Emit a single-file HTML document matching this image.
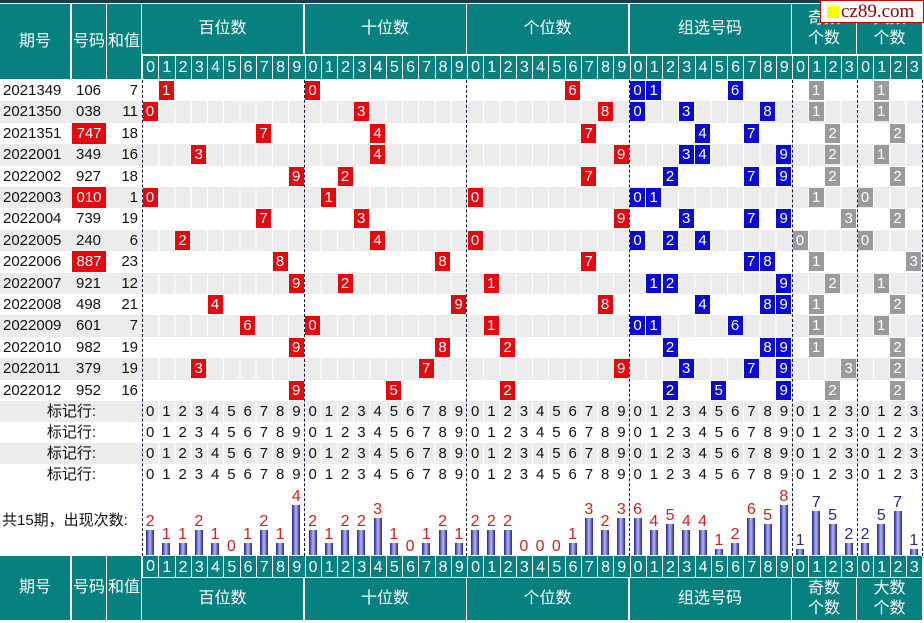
<!DOCTYPE html>
<html><head><meta charset="utf-8"><style>
*{margin:0;padding:0;box-sizing:border-box}
body{width:924px;height:623px;background:#fff;position:relative;overflow:hidden;font-family:"Liberation Sans","Noto Sans CJK SC",sans-serif;font-size:15px;color:#111}
.a{position:absolute}
.h{position:absolute;background:#078080;color:#fff;display:flex;align-items:center;justify-content:center;text-align:center;line-height:20px;font-size:16px}
.dr{position:absolute;left:142px;width:780px;height:23px;display:flex}
.dr span{flex:0 0 16.25px;background:#078080;color:#fff;text-align:center;line-height:23px;border-left:1px solid #fff;font-size:16px}
.row{position:absolute;left:0;width:922px;height:21.4px}
.g{background:#ececec}
.g::before{content:"";position:absolute;left:142px;width:780px;top:0;bottom:0;background:repeating-linear-gradient(90deg,#fff 0 1px,transparent 1px 16.25px)}
.row .t{position:absolute;top:0;line-height:21px}
.b{position:absolute;top:1px;width:15px;height:19px;line-height:19px;color:#fff;text-align:center;font-size:15px}
.r{background:#e4080f}.u{background:#0a0ad0}.y{background:#9a9a9a}
.mk{position:absolute;left:0;width:922px;height:21px}
.mk .l{position:absolute;right:826px;line-height:21px}
.mk .d{position:absolute;left:142px;width:780px;display:flex}
.mk .d span{flex:0 0 16.25px;text-align:center;line-height:21px}
.dl{position:absolute;top:80px;height:476px;width:0;border-left:1px dashed #113}
.ch{position:absolute;left:142px;top:486px;width:780px;height:69px;display:flex}
.ch div{flex:0 0 16.25px;display:flex;flex-direction:column;justify-content:flex-end;align-items:center}
.ch em{font-style:normal;font-size:16px;line-height:17px;color:#d42020}
.ch i{display:block;width:8px;background:linear-gradient(90deg,#22229a,#b8b8f0 50%,#22229a)}
</style></head><body>
<div class="a" style="left:0;top:0;width:924px;height:3px;background:#1d3a48"></div>
<div class="h" style="left:0;top:4px;width:70px;height:75px">期号</div>
<div class="h" style="left:72px;top:4px;width:34px;height:75px">号码</div>
<div class="h" style="left:107px;top:4px;width:34px;height:75px">和值</div>
<div class="h" style="left:142px;top:4px;width:161px;height:50px">百位数</div>
<div class="h" style="left:304.5px;top:4px;width:161px;height:50px">十位数</div>
<div class="h" style="left:467px;top:4px;width:161px;height:50px">个位数</div>
<div class="h" style="left:629.5px;top:4px;width:161px;height:50px">组选号码</div>
<div class="h" style="left:792px;top:4px;width:64px;height:50px">奇数<br>个数</div>
<div class="h" style="left:857px;top:4px;width:65px;height:50px">大数<br>个数</div>
<div class="dr" style="top:56px"><span>0</span><span>1</span><span>2</span><span>3</span><span>4</span><span>5</span><span>6</span><span>7</span><span>8</span><span>9</span><span>0</span><span>1</span><span>2</span><span>3</span><span>4</span><span>5</span><span>6</span><span>7</span><span>8</span><span>9</span><span>0</span><span>1</span><span>2</span><span>3</span><span>4</span><span>5</span><span>6</span><span>7</span><span>8</span><span>9</span><span>0</span><span>1</span><span>2</span><span>3</span><span>4</span><span>5</span><span>6</span><span>7</span><span>8</span><span>9</span><span>0</span><span>1</span><span>2</span><span>3</span><span>0</span><span>1</span><span>2</span><span>3</span></div>
<div class="a" style="left:820px;top:0;width:104px;height:23px;background:#fff;border:1px solid #c00"><span class="a" style="left:6px;top:5px;width:12px;height:12px;background:#ff0"></span><span class="a" style="left:20px;top:0;font-family:'Liberation Serif',serif;font-size:19px;color:#900;line-height:21px">cz89.com</span></div>

<div class="row" style="top:80px"><span class="t" style="left:3px">2021349</span><span class="t" style="left:76px">106</span><span class="t" style="right:784px">7</span>
<span class="b r" style="left:158.7px">1</span><span class="b r" style="left:305px">0</span><span class="b r" style="left:565px">6</span><span class="b u" style="left:630px">0</span><span class="b u" style="left:646.2px">1</span><span class="b u" style="left:727.5px">6</span><span class="b y" style="left:808.7px">1</span><span class="b y" style="left:873.7px">1</span></div>
<div class="row g" style="top:101.4px"><span class="t" style="left:3px">2021350</span><span class="t" style="left:76px">038</span><span class="t" style="right:784px">11</span>
<span class="b r" style="left:142.5px">0</span><span class="b r" style="left:353.7px">3</span><span class="b r" style="left:597.5px">8</span><span class="b u" style="left:630px">0</span><span class="b u" style="left:678.7px">3</span><span class="b u" style="left:760px">8</span><span class="b y" style="left:808.7px">1</span><span class="b y" style="left:873.7px">1</span></div>
<div class="row" style="top:122.8px"><span class="t" style="left:3px">2021351</span><span class="t b r" style="left:72px;width:34px;height:21px;top:0;line-height:21px">747</span><span class="t" style="right:784px">18</span>
<span class="b r" style="left:256.2px">7</span><span class="b r" style="left:370px">4</span><span class="b r" style="left:581.2px">7</span><span class="b u" style="left:695px">4</span><span class="b u" style="left:743.7px">7</span><span class="b y" style="left:825px">2</span><span class="b y" style="left:890px">2</span></div>
<div class="row g" style="top:144.2px"><span class="t" style="left:3px">2022001</span><span class="t" style="left:76px">349</span><span class="t" style="right:784px">16</span>
<span class="b r" style="left:191.2px">3</span><span class="b r" style="left:370px">4</span><span class="b r" style="left:613.7px">9</span><span class="b u" style="left:678.7px">3</span><span class="b u" style="left:695px">4</span><span class="b u" style="left:776.2px">9</span><span class="b y" style="left:825px">2</span><span class="b y" style="left:873.7px">1</span></div>
<div class="row" style="top:165.6px"><span class="t" style="left:3px">2022002</span><span class="t" style="left:76px">927</span><span class="t" style="right:784px">18</span>
<span class="b r" style="left:288.7px">9</span><span class="b r" style="left:337.5px">2</span><span class="b r" style="left:581.2px">7</span><span class="b u" style="left:662.5px">2</span><span class="b u" style="left:743.7px">7</span><span class="b u" style="left:776.2px">9</span><span class="b y" style="left:825px">2</span><span class="b y" style="left:890px">2</span></div>
<div class="row g" style="top:187px"><span class="t" style="left:3px">2022003</span><span class="t b r" style="left:72px;width:34px;height:21px;top:0;line-height:21px">010</span><span class="t" style="right:784px">1</span>
<span class="b r" style="left:142.5px">0</span><span class="b r" style="left:321.2px">1</span><span class="b r" style="left:467.5px">0</span><span class="b u" style="left:630px">0</span><span class="b u" style="left:646.2px">1</span><span class="b y" style="left:808.7px">1</span><span class="b y" style="left:857.5px">0</span></div>
<div class="row" style="top:208.4px"><span class="t" style="left:3px">2022004</span><span class="t" style="left:76px">739</span><span class="t" style="right:784px">19</span>
<span class="b r" style="left:256.2px">7</span><span class="b r" style="left:353.7px">3</span><span class="b r" style="left:613.7px">9</span><span class="b u" style="left:678.7px">3</span><span class="b u" style="left:743.7px">7</span><span class="b u" style="left:776.2px">9</span><span class="b y" style="left:841.2px">3</span><span class="b y" style="left:890px">2</span></div>
<div class="row g" style="top:229.8px"><span class="t" style="left:3px">2022005</span><span class="t" style="left:76px">240</span><span class="t" style="right:784px">6</span>
<span class="b r" style="left:175px">2</span><span class="b r" style="left:370px">4</span><span class="b r" style="left:467.5px">0</span><span class="b u" style="left:630px">0</span><span class="b u" style="left:662.5px">2</span><span class="b u" style="left:695px">4</span><span class="b y" style="left:792.5px">0</span><span class="b y" style="left:857.5px">0</span></div>
<div class="row" style="top:251.2px"><span class="t" style="left:3px">2022006</span><span class="t b r" style="left:72px;width:34px;height:21px;top:0;line-height:21px">887</span><span class="t" style="right:784px">23</span>
<span class="b r" style="left:272.5px">8</span><span class="b r" style="left:435px">8</span><span class="b r" style="left:581.2px">7</span><span class="b u" style="left:743.7px">7</span><span class="b u" style="left:760px">8</span><span class="b y" style="left:808.7px">1</span><span class="b y" style="left:906.2px">3</span></div>
<div class="row g" style="top:272.6px"><span class="t" style="left:3px">2022007</span><span class="t" style="left:76px">921</span><span class="t" style="right:784px">12</span>
<span class="b r" style="left:288.7px">9</span><span class="b r" style="left:337.5px">2</span><span class="b r" style="left:483.7px">1</span><span class="b u" style="left:646.2px">1</span><span class="b u" style="left:662.5px">2</span><span class="b u" style="left:776.2px">9</span><span class="b y" style="left:825px">2</span><span class="b y" style="left:873.7px">1</span></div>
<div class="row" style="top:294px"><span class="t" style="left:3px">2022008</span><span class="t" style="left:76px">498</span><span class="t" style="right:784px">21</span>
<span class="b r" style="left:207.5px">4</span><span class="b r" style="left:451.2px">9</span><span class="b r" style="left:597.5px">8</span><span class="b u" style="left:695px">4</span><span class="b u" style="left:760px">8</span><span class="b u" style="left:776.2px">9</span><span class="b y" style="left:808.7px">1</span><span class="b y" style="left:890px">2</span></div>
<div class="row g" style="top:315.4px"><span class="t" style="left:3px">2022009</span><span class="t" style="left:76px">601</span><span class="t" style="right:784px">7</span>
<span class="b r" style="left:240px">6</span><span class="b r" style="left:305px">0</span><span class="b r" style="left:483.7px">1</span><span class="b u" style="left:630px">0</span><span class="b u" style="left:646.2px">1</span><span class="b u" style="left:727.5px">6</span><span class="b y" style="left:808.7px">1</span><span class="b y" style="left:873.7px">1</span></div>
<div class="row" style="top:336.8px"><span class="t" style="left:3px">2022010</span><span class="t" style="left:76px">982</span><span class="t" style="right:784px">19</span>
<span class="b r" style="left:288.7px">9</span><span class="b r" style="left:435px">8</span><span class="b r" style="left:500px">2</span><span class="b u" style="left:662.5px">2</span><span class="b u" style="left:760px">8</span><span class="b u" style="left:776.2px">9</span><span class="b y" style="left:808.7px">1</span><span class="b y" style="left:890px">2</span></div>
<div class="row g" style="top:358.2px"><span class="t" style="left:3px">2022011</span><span class="t" style="left:76px">379</span><span class="t" style="right:784px">19</span>
<span class="b r" style="left:191.2px">3</span><span class="b r" style="left:418.7px">7</span><span class="b r" style="left:613.7px">9</span><span class="b u" style="left:678.7px">3</span><span class="b u" style="left:743.7px">7</span><span class="b u" style="left:776.2px">9</span><span class="b y" style="left:841.2px">3</span><span class="b y" style="left:890px">2</span></div>
<div class="row" style="top:379.6px"><span class="t" style="left:3px">2022012</span><span class="t" style="left:76px">952</span><span class="t" style="right:784px">16</span>
<span class="b r" style="left:288.7px">9</span><span class="b r" style="left:386.2px">5</span><span class="b r" style="left:500px">2</span><span class="b u" style="left:662.5px">2</span><span class="b u" style="left:711.2px">5</span><span class="b u" style="left:776.2px">9</span><span class="b y" style="left:825px">2</span><span class="b y" style="left:890px">2</span></div>

<div class="mk g" style="top:401px"><span class="l">标记行:</span><div class="d"><span>0</span><span>1</span><span>2</span><span>3</span><span>4</span><span>5</span><span>6</span><span>7</span><span>8</span><span>9</span><span>0</span><span>1</span><span>2</span><span>3</span><span>4</span><span>5</span><span>6</span><span>7</span><span>8</span><span>9</span><span>0</span><span>1</span><span>2</span><span>3</span><span>4</span><span>5</span><span>6</span><span>7</span><span>8</span><span>9</span><span>0</span><span>1</span><span>2</span><span>3</span><span>4</span><span>5</span><span>6</span><span>7</span><span>8</span><span>9</span><span>0</span><span>1</span><span>2</span><span>3</span><span>0</span><span>1</span><span>2</span><span>3</span></div></div>
<div class="mk" style="top:422px"><span class="l">标记行:</span><div class="d"><span>0</span><span>1</span><span>2</span><span>3</span><span>4</span><span>5</span><span>6</span><span>7</span><span>8</span><span>9</span><span>0</span><span>1</span><span>2</span><span>3</span><span>4</span><span>5</span><span>6</span><span>7</span><span>8</span><span>9</span><span>0</span><span>1</span><span>2</span><span>3</span><span>4</span><span>5</span><span>6</span><span>7</span><span>8</span><span>9</span><span>0</span><span>1</span><span>2</span><span>3</span><span>4</span><span>5</span><span>6</span><span>7</span><span>8</span><span>9</span><span>0</span><span>1</span><span>2</span><span>3</span><span>0</span><span>1</span><span>2</span><span>3</span></div></div>
<div class="mk g" style="top:443px"><span class="l">标记行:</span><div class="d"><span>0</span><span>1</span><span>2</span><span>3</span><span>4</span><span>5</span><span>6</span><span>7</span><span>8</span><span>9</span><span>0</span><span>1</span><span>2</span><span>3</span><span>4</span><span>5</span><span>6</span><span>7</span><span>8</span><span>9</span><span>0</span><span>1</span><span>2</span><span>3</span><span>4</span><span>5</span><span>6</span><span>7</span><span>8</span><span>9</span><span>0</span><span>1</span><span>2</span><span>3</span><span>4</span><span>5</span><span>6</span><span>7</span><span>8</span><span>9</span><span>0</span><span>1</span><span>2</span><span>3</span><span>0</span><span>1</span><span>2</span><span>3</span></div></div>
<div class="mk" style="top:464px"><span class="l">标记行:</span><div class="d"><span>0</span><span>1</span><span>2</span><span>3</span><span>4</span><span>5</span><span>6</span><span>7</span><span>8</span><span>9</span><span>0</span><span>1</span><span>2</span><span>3</span><span>4</span><span>5</span><span>6</span><span>7</span><span>8</span><span>9</span><span>0</span><span>1</span><span>2</span><span>3</span><span>4</span><span>5</span><span>6</span><span>7</span><span>8</span><span>9</span><span>0</span><span>1</span><span>2</span><span>3</span><span>4</span><span>5</span><span>6</span><span>7</span><span>8</span><span>9</span><span>0</span><span>1</span><span>2</span><span>3</span><span>0</span><span>1</span><span>2</span><span>3</span></div></div>

<div class="a" style="left:2px;top:511px;line-height:20px">共15期，出现次数:</div>

<div class="ch">
<div><em>2</em><i style="height:25px"></i></div><div><em>1</em><i style="height:12.5px"></i></div><div><em>1</em><i style="height:12.5px"></i></div><div><em>2</em><i style="height:25px"></i></div><div><em>1</em><i style="height:12.5px"></i></div><div><em>0</em><i style="height:0"></i></div><div><em>1</em><i style="height:12.5px"></i></div><div><em>2</em><i style="height:25px"></i></div><div><em>1</em><i style="height:12.5px"></i></div><div><em>4</em><i style="height:50px"></i></div>
<div><em>2</em><i style="height:25px"></i></div><div><em>1</em><i style="height:12.5px"></i></div><div><em>2</em><i style="height:25px"></i></div><div><em>2</em><i style="height:25px"></i></div><div><em>3</em><i style="height:37.5px"></i></div><div><em>1</em><i style="height:12.5px"></i></div><div><em>0</em><i style="height:0"></i></div><div><em>1</em><i style="height:12.5px"></i></div><div><em>2</em><i style="height:25px"></i></div><div><em>1</em><i style="height:12.5px"></i></div>
<div><em>2</em><i style="height:25px"></i></div><div><em>2</em><i style="height:25px"></i></div><div><em>2</em><i style="height:25px"></i></div><div><em>0</em><i style="height:0"></i></div><div><em>0</em><i style="height:0"></i></div><div><em>0</em><i style="height:0"></i></div><div><em>1</em><i style="height:12.5px"></i></div><div><em>3</em><i style="height:37.5px"></i></div><div><em>2</em><i style="height:25px"></i></div><div><em>3</em><i style="height:37.5px"></i></div>
<div><em>6</em><i style="height:37.5px"></i></div><div><em>4</em><i style="height:25px"></i></div><div><em>5</em><i style="height:31.25px"></i></div><div><em>4</em><i style="height:25px"></i></div><div><em>4</em><i style="height:25px"></i></div><div><em>1</em><i style="height:6.25px"></i></div><div><em>2</em><i style="height:12.5px"></i></div><div><em>6</em><i style="height:37.5px"></i></div><div><em>5</em><i style="height:31.25px"></i></div><div><em>8</em><i style="height:50px"></i></div>
<div><em style="color:#2a2a8a">1</em><i style="height:6.25px"></i></div><div><em style="color:#2a2a8a">7</em><i style="height:43.75px"></i></div><div><em style="color:#2a2a8a">5</em><i style="height:31.25px"></i></div><div><em style="color:#2a2a8a">2</em><i style="height:12.5px"></i></div>
<div><em style="color:#2a2a8a">2</em><i style="height:12.5px"></i></div><div><em style="color:#2a2a8a">5</em><i style="height:31.25px"></i></div><div><em style="color:#2a2a8a">7</em><i style="height:43.75px"></i></div><div><em style="color:#2a2a8a">1</em><i style="height:6.25px"></i></div>
</div>

<div class="dl" style="left:142px"></div><div class="dl" style="left:304px"></div><div class="dl" style="left:466px"></div><div class="dl" style="left:629px"></div><div class="dl" style="left:792px"></div><div class="dl" style="left:857px"></div><div class="dl" style="left:922px"></div>

<div class="h" style="left:0;top:556px;width:70px;height:64px">期号</div>
<div class="h" style="left:72px;top:556px;width:34px;height:64px">号码</div>
<div class="h" style="left:107px;top:556px;width:34px;height:64px">和值</div>
<div class="dr" style="top:556px;height:21px"><span style="line-height:21px">0</span><span>1</span><span>2</span><span>3</span><span>4</span><span>5</span><span>6</span><span>7</span><span>8</span><span>9</span><span>0</span><span>1</span><span>2</span><span>3</span><span>4</span><span>5</span><span>6</span><span>7</span><span>8</span><span>9</span><span>0</span><span>1</span><span>2</span><span>3</span><span>4</span><span>5</span><span>6</span><span>7</span><span>8</span><span>9</span><span>0</span><span>1</span><span>2</span><span>3</span><span>4</span><span>5</span><span>6</span><span>7</span><span>8</span><span>9</span><span>0</span><span>1</span><span>2</span><span>3</span><span>0</span><span>1</span><span>2</span><span>3</span></div>
<div class="h" style="left:142px;top:578px;width:161px;height:42px">百位数</div>
<div class="h" style="left:304.5px;top:578px;width:161px;height:42px">十位数</div>
<div class="h" style="left:467px;top:578px;width:161px;height:42px">个位数</div>
<div class="h" style="left:629.5px;top:578px;width:161px;height:42px">组选号码</div>
<div class="h" style="left:792px;top:578px;width:64px;height:42px">奇数<br>个数</div>
<div class="h" style="left:857px;top:578px;width:65px;height:42px">大数<br>个数</div>
</body></html>
